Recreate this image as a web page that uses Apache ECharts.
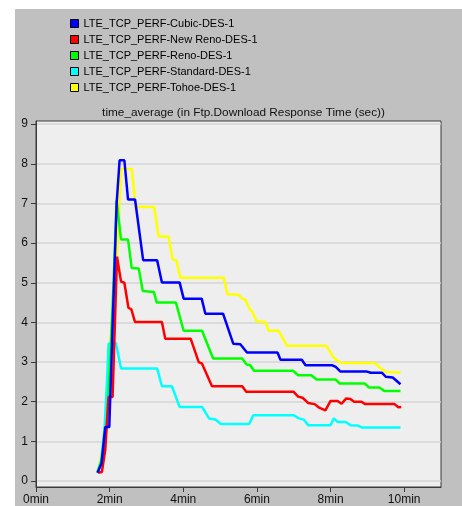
<!DOCTYPE html>
<html>
<head>
<meta charset="utf-8">
<script src="https://cdn.jsdelivr.net/npm/echarts@6/dist/echarts.min.js"></script>
<style>
html,body{margin:0;padding:0;background:#fff;}
#chart{width:462px;height:506px;background:linear-gradient(#c0c0c0,#c0c0c0) no-repeat 15px 9px / 447px 497px, #ffffff;}
</style>
</head>
<body>
<div id="chart"></div>
<script>
// Series names (legend order)
const seriesNames = [
  'LTE_TCP_PERF-Cubic-DES-1',
  'LTE_TCP_PERF-New Reno-DES-1',
  'LTE_TCP_PERF-Reno-DES-1',
  'LTE_TCP_PERF-Standard-DES-1',
  'LTE_TCP_PERF-Tohoe-DES-1'
];
// Tick values
const xTicks = [0, 2, 4, 6, 8, 10];
const yTicks = [0, 1, 2, 3, 4, 5, 6, 7, 8, 9];

// [minutes, seconds]
const cubicData = [[1.67,0.21],[1.78,0.45],[1.88,1.36],[1.99,1.36],[2.19,7.0],[2.27,8.09],[2.4,8.09],[2.5,7.1],[2.69,7.1],[2.91,5.57],[3.29,5.57],[3.42,5.01],[3.9,5.01],[4.01,4.6],[4.5,4.6],[4.6,4.22],[5.08,4.22],[5.36,3.46],[5.55,3.45],[5.73,3.24],[6.56,3.24],[6.64,3.06],[7.22,3.06],[7.32,2.92],[8.05,2.92],[8.14,2.88],[8.27,2.76],[8.99,2.76],[9.09,2.73],[9.4,2.73],[9.5,2.63],[9.69,2.61],[9.9,2.44]];
const newRenoData = [[1.69,0.21],[1.79,0.23],[1.88,0.78],[1.97,2.12],[2.08,2.12],[2.2,5.66],[2.31,5.03],[2.4,5.0],[2.51,4.37],[2.59,4.33],[2.69,4.01],[3.42,4.01],[3.51,3.59],[4.2,3.59],[4.42,3.0],[4.51,2.96],[4.78,2.39],[5.6,2.39],[5.71,2.25],[7.0,2.25],[7.12,2.13],[7.24,2.1],[7.39,1.97],[7.57,1.94],[7.69,1.85],[7.86,1.78],[8.0,2.02],[8.19,2.02],[8.3,1.95],[8.42,2.08],[8.54,2.07],[8.64,2.0],[8.84,2.0],[8.94,1.94],[9.74,1.94],[9.84,1.86],[9.92,1.87]];
const renoData = [[1.67,0.21],[1.77,0.48],[1.92,1.36],[2.01,2.97],[2.11,5.06],[2.19,7.08],[2.31,6.09],[2.5,6.09],[2.6,5.37],[2.79,5.36],[2.9,4.79],[3.2,4.77],[3.28,4.5],[3.8,4.5],[4.01,3.79],[4.51,3.79],[4.81,3.09],[5.6,3.09],[5.72,2.94],[5.82,2.92],[5.92,2.78],[6.98,2.78],[7.12,2.67],[7.48,2.67],[7.62,2.56],[8.14,2.56],[8.25,2.46],[8.93,2.46],[9.04,2.36],[9.33,2.36],[9.46,2.27],[9.9,2.27]];
const standardData = [[1.67,0.23],[1.77,0.53],[1.86,1.29],[1.93,2.54],[1.97,3.46],[2.17,3.48],[2.22,3.43],[2.31,2.84],[3.29,2.84],[3.42,2.39],[3.69,2.39],[3.9,1.87],[4.51,1.87],[4.7,1.58],[4.87,1.55],[5.02,1.44],[5.79,1.44],[5.9,1.66],[7.0,1.66],[7.14,1.58],[7.27,1.55],[7.39,1.41],[8.0,1.41],[8.09,1.58],[8.19,1.49],[8.41,1.49],[8.54,1.41],[8.74,1.4],[8.86,1.35],[9.9,1.35]];
const tohoeData = [[1.67,0.23],[1.74,0.48],[1.88,1.29],[2.05,3.93],[2.14,4.56],[2.22,6.07],[2.31,7.87],[2.6,7.87],[2.71,6.91],[3.21,6.91],[3.33,6.17],[3.6,6.17],[3.71,5.59],[3.81,5.57],[3.92,5.13],[5.1,5.13],[5.2,4.71],[5.5,4.7],[5.6,4.6],[5.69,4.57],[5.8,4.33],[5.87,4.28],[5.99,4.03],[6.23,4.01],[6.32,3.79],[6.59,3.79],[6.82,3.41],[7.89,3.41],[8.08,3.12],[8.22,3.01],[8.31,2.98],[9.2,2.98],[9.33,2.87],[9.5,2.75],[9.9,2.74]];

const seriesData = [cubicData, newRenoData, renoData, standardData, tohoeData];
const seriesColors = ['#0000ff', '#ff0000', '#00ff00', '#00ffff', '#ffff00'];
const seriesZ = [10, 9, 8, 7, 6];

const FONT = '"Liberation Sans", Arial, sans-serif';
const chart = echarts.init(document.getElementById('chart'), null, {renderer: 'canvas'});

chart.setOption({
  animation: false,
  backgroundColor: 'transparent',
  title: {
    text: 'time_average (in Ftp.Download Response Time (sec))',
    left: 238.5,
    textAlign: 'center',
    top: 102,
    textStyle: {fontFamily: FONT, fontSize: 11.8, fontWeight: 'normal', color: '#111'}
  },
  legend: {
    orient: 'vertical',
    left: 70,
    top: 16.5,
    itemWidth: 8,
    itemHeight: 8,
    itemGap: 2,
    icon: 'rect',
    padding: 0,
    data: seriesNames,
    itemStyle: {borderColor: '#000', borderWidth: 1},
    textStyle: {fontFamily: FONT, fontSize: 11, color: '#000', lineHeight: 14, padding: [0,0,0,0]}
  },
  grid: {
    left: 36, top: 121, width: 405, height: 366,
    show: true, backgroundColor: '#eeeeee', borderColor: '#3a3a3a', borderWidth: 1
  },
  xAxis: {
    type: 'value', min: 0, max: 11,
    axisLine: {show: true, onZero: false, lineStyle: {color: '#3a3a3a', width: 1}},
    axisTick: {show: true, length: 5, customValues: xTicks, lineStyle: {color: '#3a3a3a'}},
    axisLabel: {customValues: xTicks, formatter: v => v + 'min', fontFamily: FONT, fontSize: 12, color: '#111', margin: 7},
    splitLine: {show: false}
  },
  yAxis: {
    type: 'value', min: -0.15, max: 9.08,
    axisLine: {show: true, onZero: false, lineStyle: {color: '#3a3a3a', width: 1}},
    axisTick: {show: true, length: 5, customValues: yTicks, lineStyle: {color: '#3a3a3a'}},
    axisLabel: {customValues: yTicks, fontFamily: FONT, fontSize: 12, color: '#111', margin: 8},
    splitLine: {show: true, lineStyle: {color: '#d4d4d4', width: 1.5}}
  },
  series: seriesNames.map((name, i) => ({
    name: name,
    type: 'line',
    data: seriesData[i],
    z: seriesZ[i],
    showSymbol: false,
    symbol: 'none',
    color: seriesColors[i],
    lineStyle: {color: seriesColors[i], width: 2.5},
    itemStyle: {color: seriesColors[i]}
  }))
});
</script>
</body>
</html>
